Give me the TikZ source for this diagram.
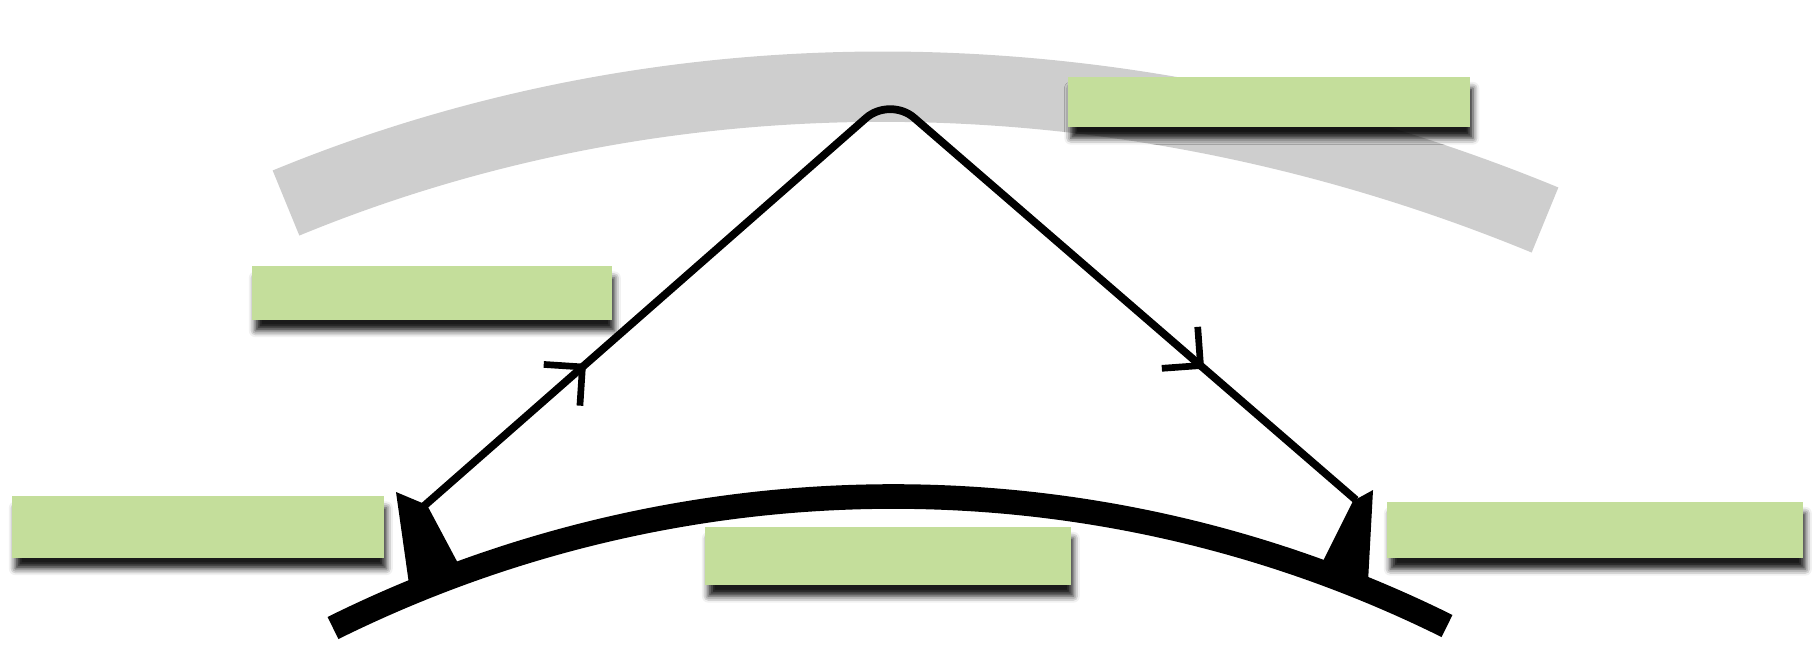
\documentclass[tikz,border=0pt]{standalone}
\usepackage{tikz}
\usetikzlibrary{
  arrows.meta,
  positioning,
  decorations.markings,
  shadows.blur
}
\definecolor{labelgreen}{RGB}{196,222,155}
\definecolor{bandgray}{RGB}{206,206,206}
\tikzset{
  labelbox/.style={fill=labelgreen, inner sep=0pt,
    blur shadow={shadow xshift=0.8pt, shadow yshift=-3.2pt,
      shadow blur radius=1.8pt, shadow opacity=90}},
  rayline/.style={line width=2.2pt, rounded corners=9pt,
    postaction={decorate, decoration={markings,
      mark=at position 0.176 with {\arrow{>}},
      mark=at position 0.836 with {\arrow{>}}}}},
  >={Straight Barb[length=7.8pt, width=15.6pt, line width=1.9pt]},
}

\begin{document}
\begin{tikzpicture}[x=0.01cm, y=-0.01cm]
  \useasboundingbox (0,0) rectangle (1816,669);

  % upper layer (grey band)
  \draw[bandgray, line width=20pt]
    (286,203) .. controls (689,37) and (1142,54) .. (1545,220);

  % ground (black curve)
  \draw[line width=7pt]
    (333,628) .. controls (684,454) and (1096,452) .. (1447,626);

  % ends of the path
  \coordinate (lfoot) at (424,506);
  \coordinate (apex) at (890,97);
  \coordinate (rfoot) at (1356,500);

  % antennas
  \fill (396,492) -- (427,505) -- (460,567) -- (409,584) -- cycle;
  \fill (1373,490) -- (1368,582) -- (1318,571) -- (1353,501) -- cycle;

  % ray path
  \draw[rayline] (lfoot) -- (apex) -- (rfoot);

  % label boxes
  \node[labelbox, minimum width=4.02cm, minimum height=0.50cm] (top) at (1269,102) {};
  \node[labelbox, minimum width=3.59cm, minimum height=0.53cm] (up) at (432,293) {};
  \node[labelbox, minimum width=3.71cm, minimum height=0.61cm] (tx) at (198,527) {};
  \node[labelbox, minimum width=3.65cm, minimum height=0.58cm] (mid) at (888,556) {};
  \node[labelbox, minimum width=4.15cm, minimum height=0.56cm] (rx) at (1595,530) {};
\end{tikzpicture}
\end{document}
